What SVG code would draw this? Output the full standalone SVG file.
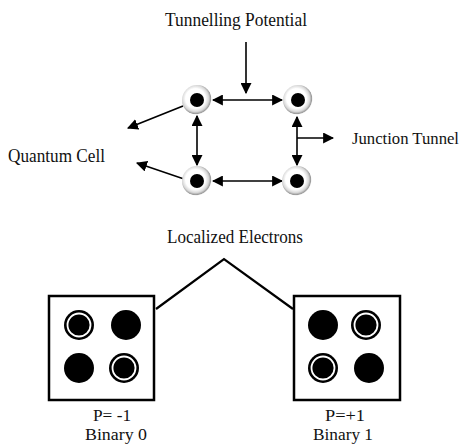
<svg xmlns="http://www.w3.org/2000/svg" width="464" height="446" viewBox="0 0 464 446">
<defs>
<marker id="ah" viewBox="0 0 10 10" refX="9" refY="5" markerWidth="11" markerHeight="11" markerUnits="userSpaceOnUse" orient="auto-start-reverse">
<path d="M0,0 L10,5 L0,10 z" fill="#000"/>
</marker>
<radialGradient id="glow" cx="0.45" cy="0.45" r="0.55">
<stop offset="0.6" stop-color="#fff"/>
<stop offset="0.8" stop-color="#d8d8d8"/>
<stop offset="0.92" stop-color="#9a9a9a"/>
<stop offset="1" stop-color="#fff" stop-opacity="0"/>
</radialGradient>
</defs>
<style>
text{font-family:"Liberation Serif","Times New Roman",serif;font-size:18px;fill:#111}
.s{font-size:16px}
.c{stroke:#000;stroke-width:1.6;fill:none}
.box{stroke:#000;stroke-width:2.5;fill:#fff}
.dot{fill:#000}
.ring{fill:#000}
.gap{fill:none;stroke:#fff;stroke-width:1.8}
</style>
<rect width="464" height="446" fill="#fff"/>
<g id="labels">
<text x="165" y="26" textLength="142" lengthAdjust="spacingAndGlyphs">Tunnelling Potential</text>
<text x="8" y="162" textLength="97" lengthAdjust="spacingAndGlyphs">Quantum Cell</text>
<text class="s" x="352" y="144" textLength="107" lengthAdjust="spacingAndGlyphs">Junction Tunnel</text>
<text x="167" y="243" textLength="136" lengthAdjust="spacingAndGlyphs">Localized Electrons</text>
</g>
<g id="connectors">
<line class="c" x1="246" y1="42" x2="246" y2="93" marker-end="url(#ah)"/>
<line class="c" x1="213" y1="100" x2="282" y2="100" marker-start="url(#ah)" marker-end="url(#ah)"/>
<line class="c" x1="213" y1="181" x2="282" y2="181" marker-start="url(#ah)" marker-end="url(#ah)"/>
<line class="c" x1="197" y1="116" x2="197" y2="165" marker-start="url(#ah)" marker-end="url(#ah)"/>
<line class="c" x1="297" y1="117" x2="297" y2="165" marker-start="url(#ah)" marker-end="url(#ah)"/>
<line class="c" x1="297" y1="138" x2="333" y2="138" marker-end="url(#ah)"/>
<line class="c" x1="183" y1="106" x2="128" y2="128" marker-end="url(#ah)"/>
<line class="c" x1="184" y1="179" x2="137" y2="163" marker-end="url(#ah)"/>
<polyline points="156,309 224,259 293,309" fill="none" stroke="#000" stroke-width="2.2"/>
</g>
<g id="dot-tl"><circle cx="197" cy="100" r="15" fill="url(#glow)"/><circle class="dot" cx="197" cy="100" r="7"/></g>
<g id="dot-tr"><circle cx="298" cy="100" r="15" fill="url(#glow)"/><circle class="dot" cx="298" cy="100" r="7"/></g>
<g id="dot-bl"><circle cx="197" cy="181" r="15" fill="url(#glow)"/><circle class="dot" cx="197" cy="181" r="7"/></g>
<g id="dot-br"><circle cx="297" cy="181" r="15" fill="url(#glow)"/><circle class="dot" cx="297" cy="181" r="7"/></g>
<g id="cell-binary0">
<rect class="box" x="49" y="296" width="105" height="104"/>
<circle class="ring" cx="79" cy="325" r="15"/><circle class="gap" cx="79" cy="325" r="11.5"/>
<circle class="dot" cx="126" cy="325" r="15"/>
<circle class="dot" cx="79" cy="368" r="15"/>
<circle class="ring" cx="124" cy="368" r="15"/><circle class="gap" cx="124" cy="368" r="11.5"/>
<text class="s" x="93" y="421" textLength="38" lengthAdjust="spacingAndGlyphs">P= -1</text>
<text class="s" x="85" y="440" textLength="62" lengthAdjust="spacingAndGlyphs">Binary 0</text>
</g>
<g id="cell-binary1">
<rect class="box" x="294" y="296" width="106" height="104"/>
<circle class="dot" cx="323" cy="325" r="15"/>
<circle class="ring" cx="366" cy="325" r="15"/><circle class="gap" cx="366" cy="325" r="11.5"/>
<circle class="ring" cx="323" cy="368" r="15"/><circle class="gap" cx="323" cy="368" r="11.5"/>
<circle class="dot" cx="369" cy="368" r="15"/>
<text class="s" x="325" y="421" textLength="40" lengthAdjust="spacingAndGlyphs">P=+1</text>
<text class="s" x="313" y="440" textLength="60" lengthAdjust="spacingAndGlyphs">Binary 1</text>
</g>
</svg>
